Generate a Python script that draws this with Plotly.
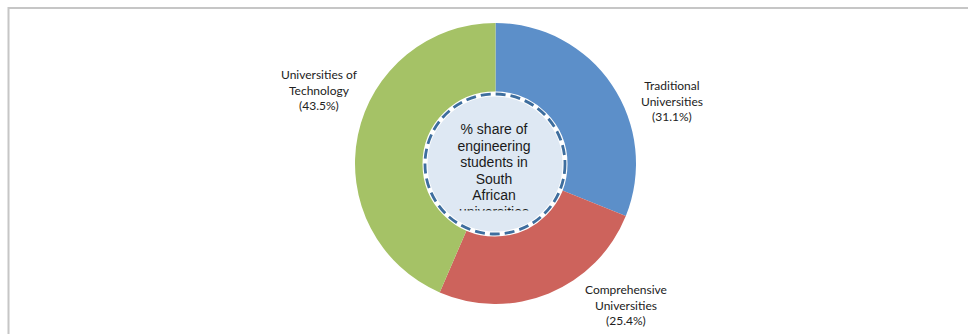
import plotly.graph_objects as go

# Share of engineering students by institution type
categories = ["Traditional Universities", "Comprehensive Universities", "Universities of Technology"]
label_lines = ["Traditional<br>Universities", "Comprehensive<br>Universities", "Universities of<br>Technology"]
shares = [31.1, 25.4, 43.5]
colors = ["#5C8FC9", "#CD635C", "#A5C266"]

center_lines = ["% share of", "engineering", "students in", "South", "African", "universities"]

W, H = 968, 334

fig = go.Figure()

# Donut
pie_left, pie_right, pie_top, pie_bottom = 355, 636, 22, 305
fig.add_trace(go.Pie(
    labels=categories,
    values=shares,
    sort=False,
    direction="clockwise",
    rotation=0,
    hole=0.5,
    textinfo="none",
    hoverinfo="label+percent",
    marker=dict(colors=colors, line=dict(width=0)),
    domain=dict(x=[pie_left / W, pie_right / W], y=[1 - pie_bottom / H, 1 - pie_top / H]),
    showlegend=False,
))

# Centre caption, clipped by the axis area so the last line is cut off
clip_bottom = 210.5
cx, first_y, step = 494, 130.5, 16.6
fig.add_trace(go.Scatter(
    x=[cx] * len(center_lines),
    y=[first_y + i * step for i in range(len(center_lines))],
    mode="text",
    text=center_lines,
    textposition="middle center",
    textfont=dict(family="Liberation Sans, Arial, sans-serif", size=14, color="#1a1a1a"),
    cliponaxis=True,
    hoverinfo="skip",
    showlegend=False,
))

fig.update_xaxes(domain=[0, 1], range=[0, W], visible=False, fixedrange=True)
fig.update_yaxes(domain=[1 - clip_bottom / H, 1], range=[clip_bottom, 0], visible=False, fixedrange=True)

# Centre disc and its dashed outline
ccx, ccy, cr = 495, 164, 70
def px_circle(r):
    return dict(type="circle", xref="paper", yref="paper",
                x0=(ccx - r) / W, x1=(ccx + r) / W,
                y0=1 - (ccy + r) / H, y1=1 - (ccy - r) / H)

shapes = [
    dict(**px_circle(cr), layer="below", fillcolor="#DEE8F3", line=dict(width=0)),
    dict(**px_circle(cr), layer="above", line=dict(color="white", width=5)),
    dict(**px_circle(cr), layer="above", line=dict(color="#3E6E9E", width=2.8, dash="10px,5px")),
    # frame
    dict(type="rect", xref="paper", yref="paper", x0=8.5 / W, x1=1.05, y0=-0.05, y1=1 - 8 / H,
         line=dict(color="#C6C6C6", width=2), layer="above"),
]

# Slice labels
label_pos = [(672, 101), (626, 305), (319, 90)]
annotations = []
for lines, share, (lx, ly) in zip(label_lines, shares, label_pos):
    annotations.append(dict(
        x=lx / W, y=1 - ly / H, xref="paper", yref="paper",
        text=f"{lines}<br>({share}%)",
        showarrow=False, align="center", xanchor="center", yanchor="middle",
        font=dict(family="Lato, Open Sans, sans-serif", size=12, color="#222222"),
    ))

fig.update_layout(
    width=W, height=H,
    margin=dict(l=0, r=0, t=0, b=0),
    paper_bgcolor="white",
    plot_bgcolor="rgba(0,0,0,0)",
    shapes=shapes,
    annotations=annotations,
)

fig.write_html("out.html")
